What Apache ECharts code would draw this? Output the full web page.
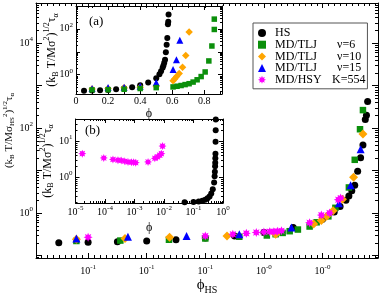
<!DOCTYPE html>
<html><head><meta charset="utf-8">
<script src="https://cdn.jsdelivr.net/npm/echarts@6/dist/echarts.min.js"></script>
<style>html,body{margin:0;padding:0;background:#fff}#c{width:382px;height:294px}</style>
</head><body><div id="c"></div>
<script>
// ---------------- data ----------------
// HS (hard spheres): phi and scaled alpha-relaxation time
const hsPhi = [0.05,0.10,0.15,0.20,0.25,0.30,0.35,0.40,0.45,0.50,0.52,0.53,0.54,0.545,0.55,0.555,0.56,0.565,0.569,0.573,0.575,0.577];
const hsTau = [0.20,0.204,0.209,0.219,0.234,0.257,0.288,0.347,0.457,0.708,1.05,1.41,2.0,2.51,3.31,4.47,9.55,20,39.8,158,200,417];
// MD/TLJ nu=6
const tlj6Phi   = [0.10,0.20,0.30,0.40,0.50,0.605,0.63,0.655,0.68,0.705,0.73,0.755,0.78,0.805,0.828,0.847,0.862,0.862];
const tlj6PhiHS = [0.08,0.155,0.238,0.30,0.358,0.405,0.42,0.432,0.444,0.458,0.478,0.49,0.51,0.522,0.545,0.555,0.564,0.569];
const tlj6Tau   = [0.219,0.224,0.234,0.251,0.275,0.295,0.316,0.339,0.372,0.407,0.479,0.603,0.832,1.32,3.98,17.8,93.3,263];
// MD/TLJ nu=10
const tlj10Phi   = [0.10,0.20,0.30,0.40,0.50,0.605,0.616,0.627,0.643,0.664,0.684,0.705];
const tlj10PhiHS = [0.08,0.163,0.239,0.337,0.42,0.485,0.498,0.507,0.518,0.534,0.553,0.569];
const tlj10Tau   = [0.240,0.251,0.269,0.288,0.316,0.550,0.661,0.832,1.12,2.09,6.92,72.4];
// MD/TLJ nu=15
const tlj15Phi   = [0.10,0.20,0.30,0.40,0.50,0.605,0.626,0.647];
const tlj15PhiHS = [0.08,0.168,0.268,0.358,0.447,0.528,0.548,0.565];
const tlj15Tau   = [0.251,0.275,0.288,0.316,0.457,1.70,4.47,31.6];
// MD/HSY K=554 : main panel (phi_HS) and inset (b) (phi)
const hsyPhiHS = [0.10,0.30,0.347,0.37,0.387,0.40,0.41,0.417,0.423,0.43,0.478,0.498,0.512,0.527,0.531];
const hsyTauHS = [0.269,0.288,0.316,0.331,0.347,0.355,0.363,0.363,0.372,0.380,0.589,0.891,1.0,2.04,2.24];
const hsyPhi = [1.7e-5,9.1e-5,1.86e-4,2.75e-4,3.55e-4,4.68e-4,6.03e-4,7.94e-4,9.33e-4,1.1e-3,2.88e-3,4.9e-3,6.03e-3,7.24e-3,8.13e-3,8.91e-3];
const hsyTau = [4.47,3.39,3.09,2.95,2.88,2.75,2.63,2.57,2.57,2.51,2.63,3.31,3.63,4.07,4.47,7.24];
// tick labels
const mainXTicks = [0.1,0.2,0.3,0.4,0.5];
const mainXTickExp = ['-1','-1','-1','-0','-0'];
const mainYTicks = [0.1,1,10,100,1000,10000];
const mainYLabels = [1,100,10000];
const insAXTicks = [0,0.2,0.4,0.6,0.8];
const insAYTicks = [1,10,100];
const insAYLabels = [1,100];
const insBXTicks = [1e-5,1e-4,1e-3,1e-2,1e-1,1];
const insBYTicks = [1,10];

// ---------------- styling ----------------
const FONT = 'Liberation Serif';
const C = {hs:'#000000', g:'#0b8f0b', o:'#ffa500', b:'#0000ff', m:'#ff00ff'};
const zip = (a,b) => a.map((v,i)=>[v,b[i]]);
function starPath(){
  let s='path://';
  for(let i=0;i<16;i++){const a=i*Math.PI/8-Math.PI/2, r=i%2?5.5:10;
    s+=(i?'L':'M')+(10+r*Math.cos(a)).toFixed(2)+' '+(10+r*Math.sin(a)).toFixed(2);}
  return s+'Z';
}
const STAR = starPath();
const tickRich = {
  b:{fontFamily:FONT,fontSize:10,lineHeight:10,verticalAlign:'middle',color:'#000'},
  s:{fontFamily:FONT,fontSize:7,lineHeight:7,padding:[0,0,8,0],verticalAlign:'middle',color:'#000'},
  n:{fontFamily:FONT,fontSize:10,lineHeight:10,color:'#000'}
};
function pow10Label(v){const e=Math.round(Math.log10(v)); return '{b|10}{s|'+(e<0?'-'+(-e):e)+'}';}
function titleRich(p,s){return {
  p:{fontFamily:FONT,fontSize:p,lineHeight:p,verticalAlign:'middle',color:'#000'},
  sup:{fontFamily:FONT,fontSize:s,lineHeight:s,padding:[0,0,Math.round(p*0.8),0],verticalAlign:'middle',color:'#000'},
  sub:{fontFamily:FONT,fontSize:s,lineHeight:s,padding:[Math.round(p*0.55),0,0,0],verticalAlign:'middle',color:'#000'}
};}
const yTitleMain = '{p|(k}{sub|B}{p| T/Mσ}{sub|HS}{sup|2}{p|)}{sup|1/2}{p|τ}{sub|α}';
const yTitleIns = '{p|(k}{sub|B}{p| T/Mσ}{sup|2}{p|)}{sup|1/2}{p|τ}{sub|α}';

function axisPair(dim, gi, o){
  const line={show:true,onZero:false,lineStyle:{color:'#000',width:1}};
  const prim = {type:o.type, gridIndex:gi, min:o.min, max:o.max, position:dim==='x'?'bottom':'left',
    axisLine:line, splitLine:{show:false}, minorTick:{show:false},
    axisTick:{show:true,inside:true,length:o.len,customValues:o.ticks,lineStyle:{color:'#000'}},
    axisLabel:{show:true,customValues:o.labels,formatter:o.fmt,margin:o.margin,rich:tickRich,
      fontFamily:FONT,fontSize:10,color:'#000',hideOverlap:false},
    name:o.name||'', nameLocation:'middle', nameGap:o.nameGap, nameMoveOverlap:false,
    nameTextStyle:o.nameStyle||{}};
  if(o.type==='log') prim.logBase=10;
  const mir = Object.assign({}, prim, {position:dim==='x'?'top':'right', axisLabel:{show:false}, name:''});
  return [prim, mir];
}

const xAxes = [].concat(
  axisPair('x',0,{type:'value',min:0.0111,max:0.5947,len:5,ticks:mainXTicks,labels:mainXTicks,margin:8,
    fmt:v=>{const i=mainXTicks.findIndex(t=>Math.abs(t-v)<1e-6); return '{b|10}{s|'+mainXTickExp[i]+'}';},
    name:'{P|ϕ}{S|HS}', nameGap:20,
    nameStyle:{rich:{P:{fontFamily:FONT,fontSize:15,lineHeight:15,verticalAlign:'middle',color:'#000'},
      S:{fontFamily:FONT,fontSize:10,lineHeight:10,padding:[9,0,0,0],verticalAlign:'middle',color:'#000'}}}}),
  axisPair('x',1,{type:'value',min:0,max:0.91,len:4,ticks:insAXTicks,labels:insAXTicks,margin:2,
    fmt:v=>'{n|'+(v===0?'0':String(+v.toFixed(1)))+'}', name:'ϕ', nameGap:14,
    nameStyle:{fontFamily:FONT,fontSize:12,color:'#000'}}),
  axisPair('x',2,{type:'log',min:1e-5,max:1,len:4,ticks:insBXTicks,labels:insBXTicks,margin:4,
    fmt:pow10Label, name:'ϕ', nameGap:19, nameStyle:{fontFamily:FONT,fontSize:12,color:'#000'}})
);
const yAxes = [].concat(
  axisPair('y',0,{type:'log',min:0.0871,max:87100,len:6,ticks:mainYTicks,labels:mainYLabels,margin:3,
    fmt:pow10Label, name:yTitleMain, nameGap:21, nameStyle:{rich:titleRich(11,7)}}),
  axisPair('y',1,{type:'log',min:0.145,max:980,len:4,ticks:insAYTicks,labels:insAYLabels,margin:3,
    fmt:pow10Label, name:yTitleIns, nameGap:18, nameStyle:{rich:titleRich(12,8)}}),
  axisPair('y',2,{type:'log',min:0.19,max:41,len:4,ticks:insBYTicks,labels:insBYTicks,margin:3,
    fmt:pow10Label, name:yTitleIns, nameGap:22, nameStyle:{rich:titleRich(12,8)}})
);

function logMinors(lo,hi){const out=[];for(let e=-6;e<=5;e++)for(let k=2;k<=9;k++){const v=k*Math.pow(10,e);if(v>lo*1.0001&&v<hi*0.9999)out.push(v);}return out;}
const mainXMinor=[]; for(let i=2;i<60;i++){ if(i%10) mainXMinor.push(i/100); }
function tickSeries(g,xMinor,yMinor,xRef,yRef,len){
  const data = xMinor.map(v=>[v,yRef,0]).concat(yMinor.map(v=>[xRef,v,1]));
  return {type:'custom', name:'ticks'+g, xAxisIndex:2*g, yAxisIndex:2*g, silent:true, z:3, clip:false,
    encode:{x:0,y:1}, data, tooltip:{show:false},
    renderItem(params, api){
      const cs=params.coordSys, kind=api.value(2), p=api.coord([api.value(0),api.value(1)]);
      const st={stroke:'#000',lineWidth:1};
      if(kind===0){const x=Math.round(p[0])+0.5, b=cs.y+cs.height, t=cs.y;
        return {type:'group',children:[{type:'line',shape:{x1:x,y1:b,x2:x,y2:b-len},style:st},
          {type:'line',shape:{x1:x,y1:t,x2:x,y2:t+len},style:st}]};}
      const y=Math.round(p[1])+0.5, l=cs.x, r=cs.x+cs.width;
      return {type:'group',children:[{type:'line',shape:{x1:l,y1:y,x2:l+len,y2:y},style:st},
        {type:'line',shape:{x1:r,y1:y,x2:r-len,y2:y},style:st}]};
    }};
}
function sc(name, g, data, symbol, size, color, z){
  return {type:'scatter', name, xAxisIndex:2*g, yAxisIndex:2*g, data, symbol, symbolSize:size,
    itemStyle:{color, opacity:1}, z:z||2, emphasis:{disabled:true}};
}
const N = {hs:'HS', g:'MD/TLJ ν=6', o:'MD/TLJ ν=10', b:'MD/TLJ ν=15', m:'MD/HSY K=554'};
const legendText = {};
legendText[N.hs]='{t|HS}';
legendText[N.g]='{a|MD/TLJ}{t2|ν=6}';
legendText[N.o]='{a|MD/TLJ}{t2|ν=10}';
legendText[N.b]='{a|MD/TLJ}{t2|ν=15}';
legendText[N.m]='{h|MD/HSY}{t2|K=554}';

const series = [
  // main panel
  sc(N.hs,0,zip(hsPhi,hsTau),'circle',7,C.hs),
  sc(N.g,0,zip(tlj6PhiHS,tlj6Tau),'rect',6.5,C.g),
  sc(N.o,0,zip(tlj10PhiHS,tlj10Tau),'diamond',9,C.o),
  sc(N.b,0,zip(tlj15PhiHS,tlj15Tau),'triangle',8,C.b),
  sc(N.m,0,zip(hsyPhiHS,hsyTauHS),STAR,9,C.m),
  // inset (a)
  sc(N.hs,1,zip(hsPhi,hsTau),'circle',6,C.hs),
  sc(N.o,1,zip(tlj10Phi,tlj10Tau),'diamond',7.5,C.o),
  sc(N.b,1,zip(tlj15Phi,tlj15Tau),'triangle',7,C.b),
  sc(N.g,1,zip(tlj6Phi,tlj6Tau),'rect',5.5,C.g),
  // inset (b)
  sc(N.hs,2,zip(hsPhi,hsTau),'circle',6,C.hs),
  sc(N.m,2,zip(hsyPhi,hsyTau),STAR,8,C.m),
  tickSeries(0,mainXMinor,logMinors(0.0871,87100),0.3,1,3),
  tickSeries(1,[0.1,0.3,0.5,0.7,0.9],logMinors(0.145,980),0.3,1,2),
  tickSeries(2,logMinors(1e-5,1),logMinors(0.19,41),0.01,1,2)
];

const chart = echarts.init(document.getElementById('c'), null, {renderer:'canvas'});
const lt = {fontFamily:FONT,fontSize:12,lineHeight:12,color:'#000'};
chart.setOption({
  animation:false,
  backgroundColor:'#fff',
  grid:[
    {left:36, top:3, width:342, height:255, show:false, outerBoundsMode:'none', containLabel:false},
    {left:76, top:6, width:146, height:88, show:true, backgroundColor:'#fff', borderWidth:0, outerBoundsMode:'none', containLabel:false},
    {left:75.5, top:119, width:147.5, height:84, show:true, backgroundColor:'#fff', borderWidth:0, outerBoundsMode:'none', containLabel:false}
  ],
  xAxis:xAxes, yAxis:yAxes,
  legend:{orient:'vertical', left:253, top:23, padding:[4,2,3,5], itemWidth:8, itemHeight:8, itemGap:-0.3,
    selectedMode:false, borderColor:'#555', borderWidth:1, backgroundColor:'#fff', z:20,
    data:[N.hs,N.g,N.o,N.b,N.m], formatter:n=>legendText[n],
    textStyle:Object.assign({}, lt, {rich:{
      t:Object.assign({padding:[0,0,0,4]}, lt),
      t2:Object.assign({}, lt),
      a:Object.assign({width:62,padding:[0,0,0,4]}, lt),
      h:Object.assign({width:57,padding:[0,0,0,4]}, lt)}})},
  graphic:[
    {type:'text', left:89, top:15, z:50, style:{text:'(a)', font:'13px "Liberation Serif"', fill:'#000'}},
    {type:'text', left:85, top:124.5, z:50, style:{text:'(b)', font:'13px "Liberation Serif"', fill:'#000'}}
  ],
  series
});
</script></body></html>
